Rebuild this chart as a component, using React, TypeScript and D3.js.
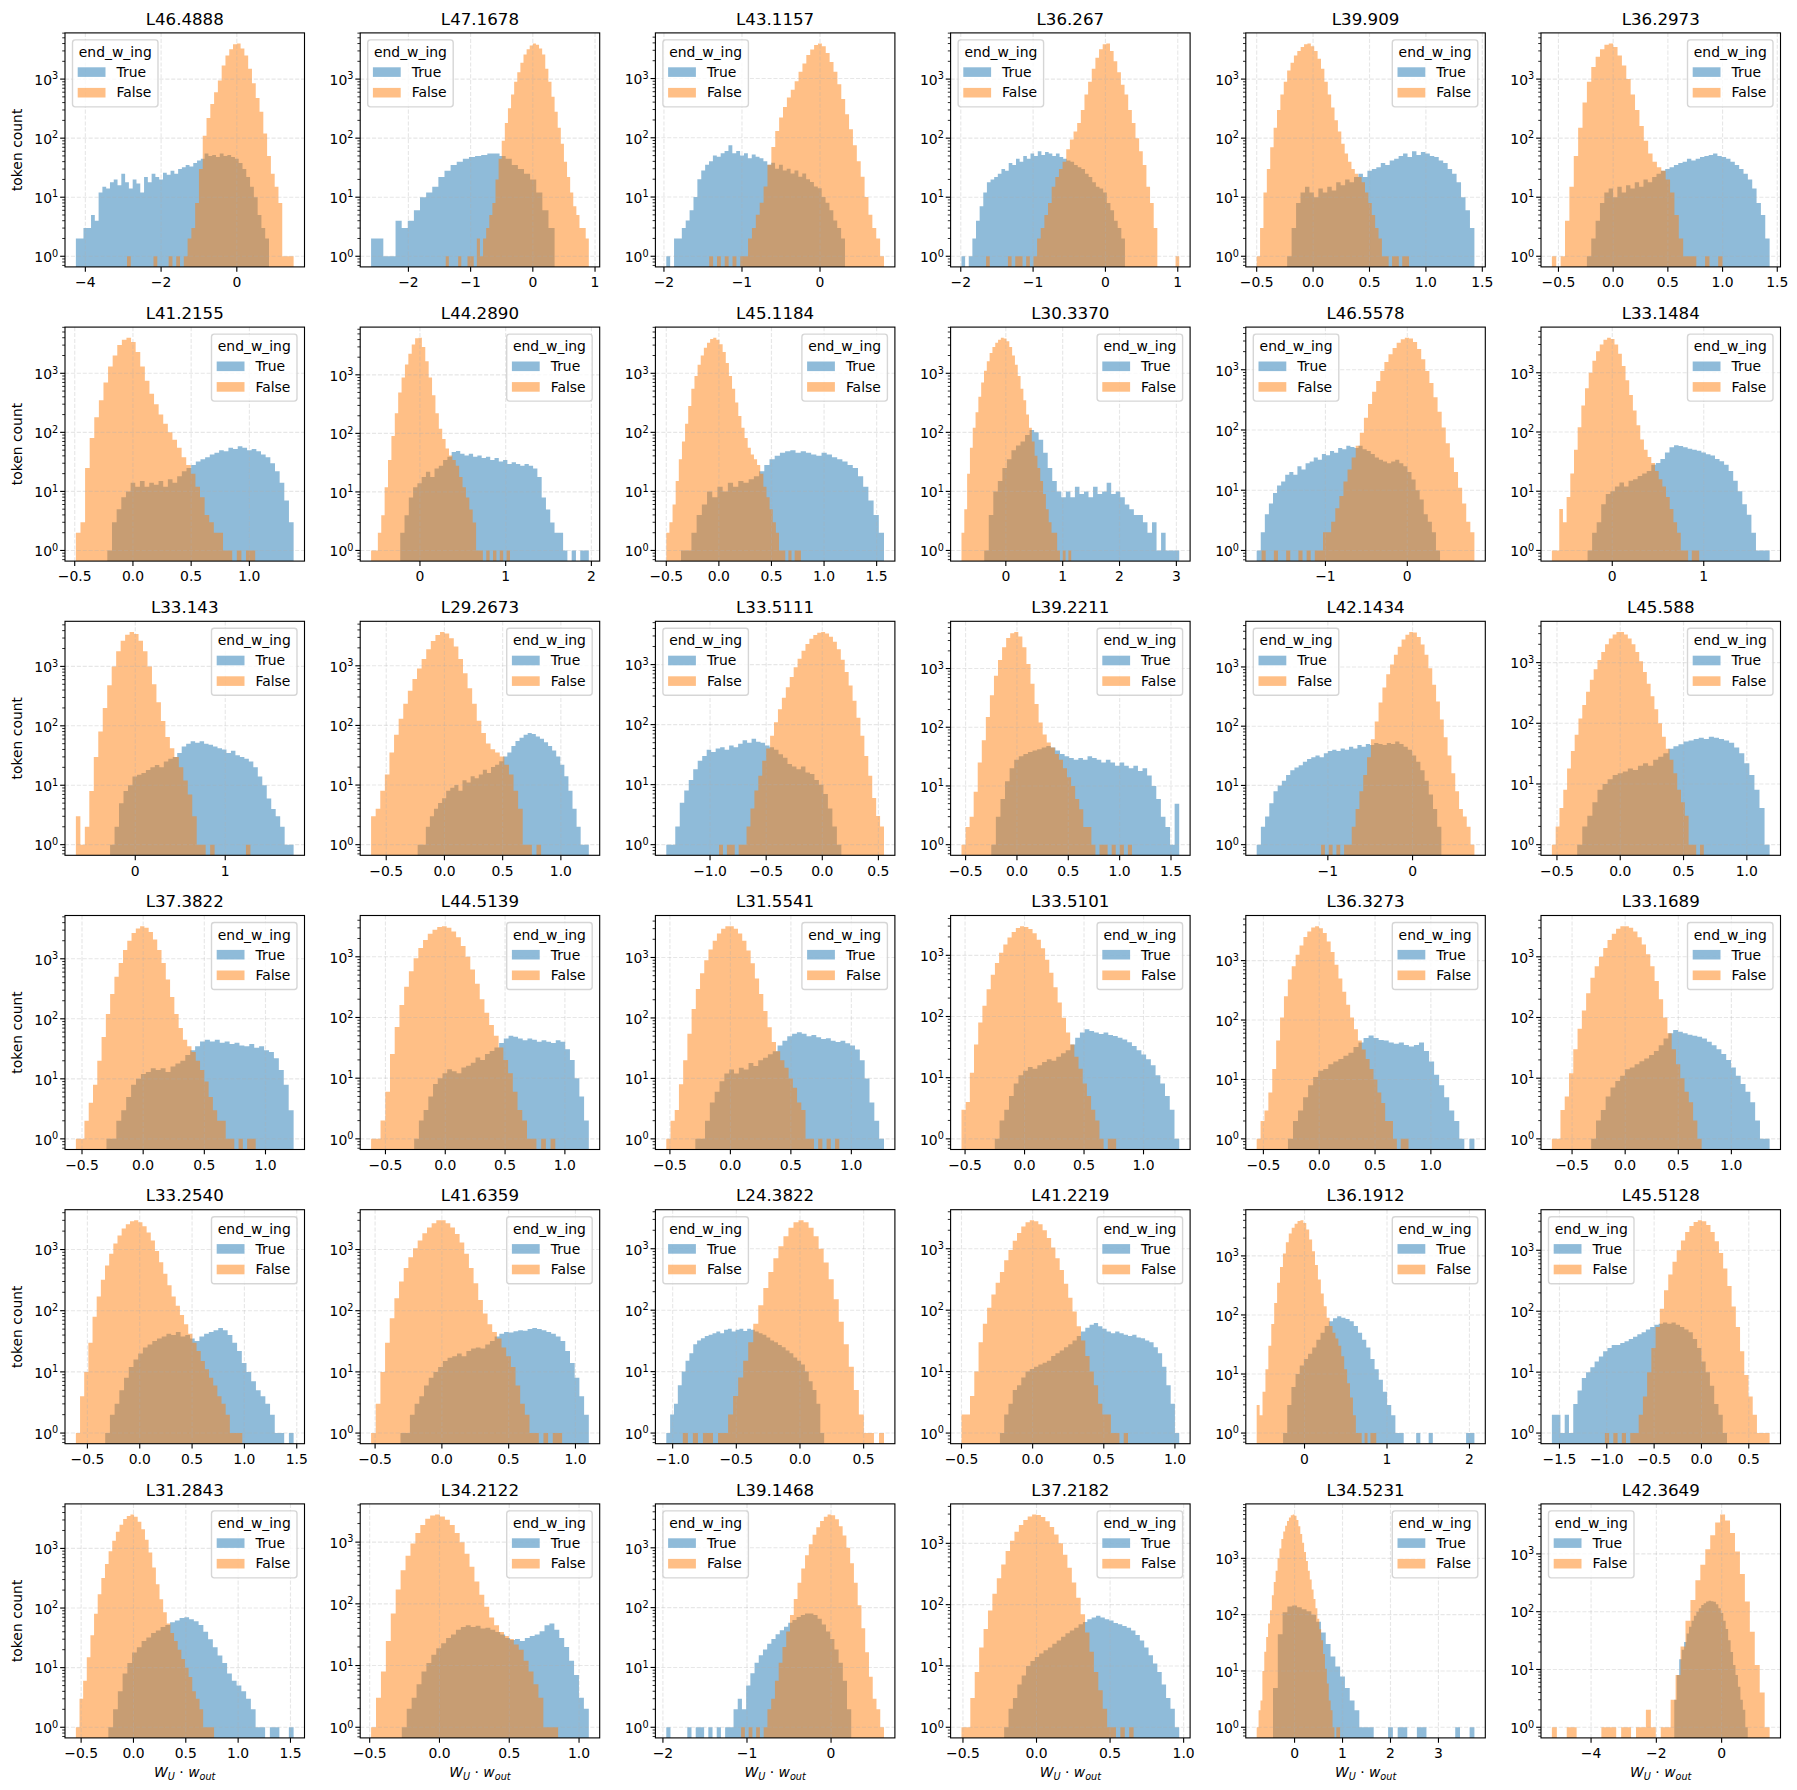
import { useEffect, useRef } from 'react';
import * as d3 from 'd3';

const titles = [
  'L46.4888', 'L47.1678', 'L43.1157', 'L36.267', 'L39.909', 'L36.2973',
  'L41.2155', 'L44.2890', 'L45.1184', 'L30.3370', 'L46.5578', 'L33.1484',
  'L33.143', 'L29.2673', 'L33.5111', 'L39.2211', 'L42.1434', 'L45.588',
  'L37.3822', 'L44.5139', 'L31.5541', 'L33.5101', 'L36.3273', 'L33.1689',
  'L33.2540', 'L41.6359', 'L24.3822', 'L41.2219', 'L36.1912', 'L45.5128',
  'L31.2843', 'L34.2122', 'L39.1468', 'L37.2182', 'L34.5231', 'L42.3649',
];

const xTicks: number[][] = [
  [-4, -2, 0], [-2, -1, 0, 1], [-2, -1, 0], [-2, -1, 0, 1], [-0.5, 0, 0.5, 1, 1.5], [-0.5, 0, 0.5, 1, 1.5],
  [-0.5, 0, 0.5, 1], [0, 1, 2], [-0.5, 0, 0.5, 1, 1.5], [0, 1, 2, 3], [-1, 0], [0, 1],
  [0, 1], [-0.5, 0, 0.5, 1], [-1, -0.5, 0, 0.5], [-0.5, 0, 0.5, 1, 1.5], [-1, 0], [-0.5, 0, 0.5, 1],
  [-0.5, 0, 0.5, 1], [-0.5, 0, 0.5, 1], [-0.5, 0, 0.5, 1], [-0.5, 0, 0.5, 1], [-0.5, 0, 0.5, 1], [-0.5, 0, 0.5, 1],
  [-0.5, 0, 0.5, 1, 1.5], [-0.5, 0, 0.5, 1], [-1, -0.5, 0, 0.5], [-0.5, 0, 0.5, 1], [0, 1, 2], [-1.5, -1, -0.5, 0, 0.5],
  [-0.5, 0, 0.5, 1, 1.5], [-0.5, 0, 0.5, 1], [-2, -1, 0], [-0.5, 0, 0.5, 1], [0, 1, 2, 3], [-4, -2, 0],
];

const legendLeft = [
  true, true, true, true, false, false,
  false, false, false, false, true, false,
  false, false, true, false, true, false,
  false, false, false, false, false, false,
  false, false, true, false, false, true,
  false, false, true, false, false, true,
];

// bin range [first edge, last edge] of each series
const trueRanges: [number, number][] = [
  [-4.25, 0.85], [-2.6, 0.35], [-1.97, 0.32], [-1.99, 0.27], [-0.23, 1.43], [-0.24, 1.43],
  [-0.22, 1.38], [-0.23, 1.97], [-0.36, 1.57], [-0.38, 3.05], [-1.84, 0.4], [-0.27, 1.72],
  [-0.28, 1.76], [-0.23, 1.24], [-1.39, 0.17], [-0.25, 1.58], [-1.84, 0.34], [-0.34, 1.18],
  [-0.3, 1.23], [-0.26, 1.2], [-0.29, 1.27], [-0.25, 1.3], [-0.28, 1.39], [-0.32, 1.36],
  [-0.33, 1.47], [-0.31, 1.1], [-1.05, 0.19], [-0.23, 1.03], [-0.26, 2.06], [-1.58, 0.27],
  [-0.24, 1.53], [-0.27, 1.07], [-1.96, 0.24], [-0.22, 0.97], [-0.45, 3.75], [-1.45, 0.8],
];

const falseRanges: [number, number][] = [
  [-2.9, 1.5], [-1.4, 0.9], [-1.42, 0.82], [-1.65, 1.02], [-0.5, 0.85], [-0.56, 1.0],
  [-0.49, 1.05], [-0.57, 1.05], [-0.5, 0.78], [-0.78, 1.15], [-1.78, 0.82], [-0.66, 0.95],
  [-0.66, 1.28], [-0.63, 0.83], [-0.92, 0.55], [-0.54, 1.12], [-1.08, 0.73], [-0.54, 0.66],
  [-0.55, 0.92], [-0.62, 0.92], [-0.53, 0.9], [-0.53, 0.77], [-0.56, 0.8], [-0.69, 0.72],
  [-0.61, 0.98], [-0.53, 0.9], [-0.92, 0.66], [-0.5, 0.67], [-0.58, 0.87], [-1.02, 0.72],
  [-0.55, 0.77], [-0.49, 0.85], [-1.07, 0.63], [-0.51, 0.66], [-0.79, 0.95], [-5.2, 1.47],
];

// token counts per bin, end_w_ing = True
const trueCounts: number[][] = [
  [2, 2, 3, 3, 5, 4, 12, 15, 14, 18, 20, 16, 25, 18, 14, 20, 17, 12, 22, 18, 25, 22, 20, 26, 24, 28, 25, 30, 32, 35, 33, 38, 42, 45, 55, 50, 52, 48, 55, 50, 52, 48, 45, 38, 30, 22, 15, 10, 5, 3, 2],
  [2, 2, 1, 1, 4, 3, 4, 6, 10, 12, 15, 22, 28, 35, 40, 45, 48, 50, 52, 55, 55, 50, 45, 35, 30, 25, 20, 12, 6, 3],
  [1, 0, 2, 2, 3, 4, 6, 10, 20, 28, 35, 40, 50, 48, 55, 60, 75, 55, 60, 50, 55, 45, 52, 48, 45, 40, 35, 38, 30, 35, 28, 30, 25, 28, 22, 25, 20, 18, 15, 14, 10, 8, 6, 4, 3, 2],
  [1, 0, 1, 2, 4, 7, 12, 18, 20, 22, 25, 30, 28, 38, 35, 45, 40, 50, 45, 55, 50, 60, 52, 58, 55, 50, 55, 48, 45, 42, 40, 35, 32, 30, 25, 22, 18, 15, 14, 12, 8, 6, 4, 3, 2],
  [1, 3, 8, 12, 15, 12, 10, 14, 12, 15, 13, 18, 16, 20, 18, 22, 25, 22, 28, 30, 32, 38, 35, 42, 45, 50, 55, 48, 60, 52, 58, 55, 50, 48, 42, 38, 30, 25, 18, 10, 6, 3],
  [1, 2, 4, 8, 12, 14, 10, 15, 12, 16, 14, 18, 15, 20, 18, 22, 25, 28, 30, 32, 35, 38, 40, 45, 42, 45, 48, 50, 52, 55, 50, 48, 45, 40, 35, 30, 25, 20, 14, 8, 5, 2],
  [1, 3, 5, 8, 10, 14, 12, 15, 12, 14, 13, 15, 12, 16, 14, 18, 22, 25, 28, 32, 35, 38, 42, 45, 50, 48, 55, 52, 58, 55, 50, 52, 48, 42, 38, 30, 22, 14, 7, 3],
  [2, 4, 8, 12, 14, 18, 22, 18, 25, 28, 35, 40, 48, 50, 45, 42, 45, 40, 42, 38, 40, 35, 38, 33, 35, 30, 32, 30, 28, 30, 28, 25, 18, 8, 5, 3, 2, 2, 1, 0, 1, 0, 1, 1],
  [1, 1, 2, 4, 6, 10, 8, 12, 10, 14, 12, 15, 14, 16, 18, 22, 28, 35, 40, 45, 48, 50, 45, 48, 45, 42, 40, 45, 42, 38, 35, 32, 28, 25, 18, 12, 7, 4, 2],
  [1, 4, 10, 15, 25, 35, 50, 60, 70, 90, 110, 100, 75, 45, 25, 15, 10, 8, 10, 8, 12, 9, 10, 8, 12, 9, 10, 14, 9, 10, 8, 6, 5, 4, 4, 3, 2, 3, 1, 2, 1, 1, 1],
  [1, 2, 4, 6, 9, 12, 14, 18, 20, 18, 25, 22, 28, 30, 35, 32, 40, 38, 45, 42, 50, 48, 55, 52, 50, 55, 48, 45, 40, 35, 32, 30, 28, 30, 32, 28, 25, 20, 15, 10, 7, 4, 3, 2, 1],
  [1, 2, 3, 6, 9, 10, 12, 14, 12, 15, 16, 18, 20, 22, 28, 30, 35, 45, 55, 60, 58, 55, 52, 50, 48, 45, 42, 40, 35, 32, 28, 22, 15, 10, 6, 4, 2, 1, 1, 1],
  [1, 2, 5, 8, 10, 14, 15, 16, 18, 20, 22, 20, 25, 28, 30, 35, 45, 50, 55, 52, 55, 50, 48, 45, 42, 40, 35, 38, 32, 30, 28, 25, 20, 14, 10, 6, 4, 3, 2, 1, 1],
  [1, 1, 2, 3, 4, 5, 6, 8, 9, 10, 8, 12, 11, 14, 13, 15, 18, 16, 20, 22, 25, 30, 35, 45, 55, 62, 70, 75, 72, 65, 60, 52, 45, 38, 30, 22, 14, 8, 4, 2, 1, 1],
  [1, 1, 2, 5, 8, 12, 18, 25, 30, 38, 35, 40, 42, 38, 45, 42, 48, 55, 50, 58, 52, 50, 45, 42, 38, 32, 28, 22, 20, 18, 20, 16, 15, 12, 10, 7, 4, 2, 1],
  [1, 3, 6, 12, 20, 28, 32, 35, 38, 40, 42, 45, 48, 45, 40, 35, 32, 30, 28, 30, 28, 32, 30, 28, 25, 28, 25, 22, 25, 22, 20, 22, 18, 20, 15, 10, 6, 3, 2, 1, 5],
  [1, 2, 3, 5, 8, 10, 12, 15, 18, 20, 22, 25, 28, 30, 32, 30, 35, 38, 40, 38, 42, 40, 45, 42, 48, 45, 50, 48, 52, 50, 48, 52, 50, 55, 50, 45, 40, 32, 25, 18, 12, 7, 4, 2],
  [1, 2, 3, 5, 8, 10, 12, 14, 15, 16, 18, 17, 20, 22, 20, 25, 28, 32, 38, 42, 45, 50, 52, 55, 58, 55, 60, 58, 55, 52, 48, 40, 32, 22, 14, 8, 4, 1],
  [1, 1, 2, 3, 5, 8, 10, 12, 13, 15, 14, 15, 13, 16, 18, 20, 25, 30, 35, 42, 45, 42, 45, 40, 42, 38, 40, 36, 35, 38, 33, 35, 30, 28, 22, 14, 8, 3],
  [1, 2, 3, 5, 8, 10, 12, 14, 13, 12, 15, 16, 18, 22, 20, 25, 28, 32, 38, 45, 50, 48, 45, 42, 45, 43, 40, 42, 40, 38, 42, 40, 30, 20, 10, 5, 2],
  [1, 1, 2, 4, 6, 9, 12, 14, 12, 15, 14, 18, 16, 20, 22, 25, 28, 35, 42, 50, 55, 58, 55, 50, 52, 48, 45, 46, 42, 40, 42, 38, 35, 30, 20, 10, 4, 2, 1],
  [1, 2, 3, 5, 8, 11, 13, 15, 14, 16, 18, 20, 19, 22, 25, 28, 35, 45, 55, 62, 58, 55, 52, 55, 50, 48, 45, 42, 38, 33, 28, 24, 20, 16, 11, 8, 5, 3, 1],
  [1, 2, 3, 5, 8, 11, 14, 15, 18, 20, 22, 25, 28, 35, 42, 50, 55, 50, 46, 45, 42, 40, 42, 38, 36, 38, 42, 30, 20, 12, 8, 5, 3, 2, 1, 0, 1],
  [1, 2, 3, 5, 7, 9, 11, 14, 15, 17, 19, 21, 24, 28, 35, 45, 55, 62, 58, 55, 52, 50, 48, 45, 40, 35, 30, 25, 20, 15, 11, 8, 6, 4, 2, 1, 1],
  [1, 2, 3, 5, 8, 12, 16, 20, 25, 28, 32, 35, 38, 42, 40, 45, 38, 40, 35, 32, 38, 42, 45, 48, 52, 48, 40, 30, 22, 14, 10, 7, 5, 4, 3, 2, 1, 1, 0, 1],
  [1, 1, 2, 3, 4, 6, 8, 10, 12, 15, 17, 18, 20, 18, 22, 24, 25, 24, 28, 32, 38, 42, 45, 44, 46, 48, 47, 50, 52, 50, 48, 45, 42, 38, 32, 22, 14, 8, 4, 2],
  [1, 2, 3, 6, 10, 15, 20, 28, 32, 35, 38, 40, 42, 45, 42, 48, 50, 45, 48, 50, 46, 50, 48, 45, 42, 40, 36, 32, 30, 27, 25, 22, 20, 17, 15, 13, 10, 7, 5, 3, 1],
  [1, 2, 3, 5, 6, 8, 10, 11, 12, 13, 14, 15, 18, 20, 22, 25, 28, 32, 38, 45, 52, 58, 62, 55, 50, 45, 42, 45, 42, 40, 38, 40, 36, 35, 32, 30, 25, 20, 12, 6, 3, 1],
  [1, 3, 6, 10, 14, 18, 22, 28, 38, 50, 65, 78, 88, 95, 90, 85, 78, 65, 50, 38, 28, 18, 12, 8, 5, 3, 2, 1, 1, 0, 0, 0, 1, 0, 0, 1, 0, 0, 0, 0, 0, 0, 0, 0, 1, 1],
  [2, 2, 1, 2, 1, 3, 5, 8, 10, 12, 15, 18, 22, 25, 28, 28, 30, 32, 35, 38, 42, 45, 50, 55, 60, 62, 65, 62, 65, 60, 55, 50, 45, 35, 25, 15, 10, 6, 3, 2, 1],
  [1, 2, 4, 8, 12, 18, 22, 28, 32, 38, 42, 48, 52, 58, 62, 68, 70, 65, 60, 52, 40, 30, 22, 16, 12, 8, 6, 5, 4, 3, 2, 1, 1, 0, 1, 1, 0, 0, 1],
  [1, 2, 3, 5, 8, 11, 15, 19, 23, 28, 32, 38, 42, 45, 42, 44, 40, 41, 38, 35, 32, 28, 26, 27, 25, 28, 30, 32, 36, 45, 48, 38, 28, 20, 12, 7, 3, 2],
  [1, 0, 0, 0, 0, 1, 0, 1, 1, 0, 1, 0, 1, 0, 1, 1, 2, 3, 2, 5, 8, 12, 16, 20, 25, 30, 36, 42, 48, 56, 62, 70, 75, 80, 80, 75, 65, 52, 40, 30, 20, 12, 6, 2],
  [1, 2, 3, 5, 7, 10, 12, 14, 16, 18, 20, 23, 26, 30, 34, 38, 42, 48, 52, 58, 62, 66, 62, 58, 55, 50, 48, 45, 42, 38, 32, 26, 20, 15, 11, 8, 5, 3, 2, 1],
  [5, 45, 110, 140, 145, 135, 125, 115, 100, 75, 48, 30, 18, 12, 8, 5, 3, 2, 1, 1, 1, 0, 0, 0, 1, 0, 1, 1, 0, 0, 1, 1, 0, 0, 0, 0, 0, 0, 1, 0, 0, 1],
  [3, 8, 15, 22, 30, 42, 55, 70, 85, 100, 115, 130, 140, 150, 155, 152, 148, 135, 115, 95, 70, 50, 32, 20, 12, 8, 5, 3, 2, 1],
];

// token counts per bin, end_w_ing = False
const falseCounts: number[][] = [
  [1, 0, 0, 0, 0, 0, 0, 1, 0, 0, 0, 1, 0, 1, 0, 1, 2, 3, 8, 30, 110, 220, 380, 600, 950, 1700, 2500, 3200, 3900, 4000, 3300, 2500, 1500, 850, 480, 280, 120, 50, 25, 15, 8, 1, 1, 1],
  [1, 0, 0, 0, 1, 0, 0, 1, 1, 0, 2, 1, 2, 3, 5, 8, 20, 45, 90, 180, 320, 550, 900, 1300, 1900, 2600, 3200, 3700, 4000, 3800, 3300, 2600, 1500, 900, 500, 280, 150, 80, 40, 22, 12, 7, 5, 3, 3, 2],
  [1, 0, 1, 0, 1, 0, 1, 0, 1, 1, 2, 3, 5, 8, 15, 35, 70, 130, 220, 330, 480, 650, 900, 1300, 1800, 2500, 3100, 3700, 3900, 3500, 2700, 1900, 1300, 800, 450, 250, 140, 75, 40, 22, 10, 5, 3, 2, 1],
  [1, 0, 0, 0, 0, 0, 1, 0, 1, 1, 0, 1, 0, 1, 2, 3, 5, 8, 15, 22, 30, 40, 65, 95, 130, 180, 300, 550, 900, 1500, 2300, 3200, 3900, 4000, 3000, 2000, 1300, 800, 550, 300, 180, 100, 60, 35, 15, 8, 3, 0, 0, 0, 0, 0, 1],
  [1, 3, 12, 30, 70, 150, 300, 550, 900, 1400, 1900, 2500, 3000, 3500, 3900, 4000, 3600, 3000, 2200, 1500, 900, 550, 330, 200, 130, 80, 55, 40, 30, 25, 22, 18, 12, 8, 5, 3, 2, 1, 1, 0, 1, 1, 0, 1, 1],
  [1, 0, 1, 4, 15, 50, 150, 400, 900, 1600, 2400, 3200, 3800, 4000, 3500, 2500, 1700, 1000, 550, 300, 160, 90, 55, 40, 32, 28, 20, 12, 5, 2, 1, 1, 1, 0, 0, 1, 0, 0, 1],
  [2, 3, 25, 80, 180, 350, 700, 1300, 2000, 3000, 3700, 4000, 3400, 2300, 1300, 750, 450, 300, 200, 140, 100, 75, 55, 38, 28, 20, 12, 8, 4, 3, 2, 2, 1, 1, 0, 1, 0, 1, 1],
  [1, 1, 2, 4, 12, 35, 90, 220, 500, 900, 1500, 2300, 3300, 4200, 4300, 3000, 1700, 900, 450, 220, 120, 80, 55, 42, 35, 28, 18, 12, 8, 5, 3, 1, 1, 0, 1, 0, 1, 0, 1, 0, 1],
  [2, 3, 6, 15, 35, 70, 140, 280, 550, 900, 1400, 2000, 2700, 3300, 3800, 4000, 3700, 3100, 2300, 1500, 900, 550, 320, 190, 120, 80, 55, 42, 35, 28, 20, 12, 8, 5, 3, 2, 1, 1, 0, 1, 0, 1, 1],
  [2, 5, 20, 55, 120, 220, 400, 700, 1100, 1600, 2200, 2800, 3300, 3700, 4000, 3900, 3500, 2800, 2000, 1400, 900, 550, 350, 200, 120, 70, 40, 25, 15, 9, 5, 3, 2, 2, 1, 0, 1, 0, 1],
  [1, 0, 0, 1, 0, 0, 1, 0, 0, 1, 0, 1, 0, 1, 1, 2, 2, 3, 5, 8, 14, 22, 35, 55, 90, 160, 270, 430, 650, 950, 1350, 1800, 2300, 2800, 3200, 3400, 3300, 2900, 2200, 1500, 950, 600, 350, 200, 110, 60, 35, 20, 11, 6, 3, 2],
  [1, 1, 5, 3, 8, 20, 50, 120, 280, 550, 1000, 1600, 2300, 3000, 3600, 3900, 3700, 3000, 2100, 1300, 750, 420, 230, 130, 75, 50, 38, 30, 22, 16, 12, 8, 5, 3, 2, 1, 1, 0, 1, 1],
  [3, 1, 2, 8, 30, 80, 200, 480, 1000, 1800, 2700, 3400, 3800, 3500, 2700, 1800, 1000, 500, 250, 120, 65, 42, 30, 20, 12, 7, 3, 1, 1, 0, 1, 0, 0, 0, 0, 0, 0, 0, 1],
  [3, 4, 8, 15, 35, 70, 130, 230, 380, 600, 900, 1300, 1900, 2600, 3300, 3700, 3500, 2900, 2100, 1300, 750, 420, 230, 120, 75, 50, 40, 35, 30, 22, 15, 8, 4, 1, 1, 0, 1],
  [1, 0, 1, 1, 0, 1, 1, 2, 4, 8, 14, 25, 40, 65, 110, 180, 280, 420, 620, 900, 1250, 1700, 2200, 2700, 3100, 3400, 3500, 3300, 2900, 2400, 1800, 1200, 750, 450, 250, 130, 65, 30, 14, 6, 3, 2],
  [1, 2, 3, 8, 25, 60, 150, 350, 750, 1400, 2300, 3300, 4000, 4200, 3500, 2300, 1200, 550, 250, 120, 75, 55, 45, 35, 28, 20, 14, 10, 6, 4, 2, 2, 1, 0, 1, 1, 0, 1, 0, 1, 0, 1],
  [1, 0, 1, 0, 1, 0, 1, 1, 2, 4, 8, 15, 30, 60, 120, 250, 450, 750, 1100, 1600, 2200, 2900, 3500, 3900, 3800, 3200, 2400, 1600, 950, 500, 260, 130, 65, 32, 16, 8, 4, 3, 2, 1],
  [1, 2, 4, 8, 18, 35, 65, 120, 200, 330, 520, 780, 1100, 1500, 2000, 2500, 2900, 3200, 3200, 2900, 2500, 2000, 1500, 1050, 700, 450, 280, 170, 100, 60, 38, 25, 15, 8, 5, 3, 1, 1, 0, 1],
  [1, 1, 2, 4, 8, 20, 50, 120, 260, 500, 850, 1400, 2000, 2700, 3200, 3500, 3300, 2800, 2100, 1400, 850, 450, 230, 120, 70, 45, 35, 28, 20, 14, 9, 5, 3, 2, 2, 1, 1, 0, 1, 0, 1, 1],
  [1, 1, 2, 6, 25, 70, 160, 320, 580, 950, 1400, 1900, 2400, 2800, 3100, 3200, 3000, 2600, 2100, 1500, 1000, 620, 360, 200, 120, 75, 50, 32, 20, 12, 6, 3, 2, 1, 1, 0, 1, 0, 1],
  [1, 2, 3, 8, 20, 55, 140, 300, 550, 900, 1350, 1900, 2500, 3000, 3300, 3300, 3000, 2500, 1900, 1300, 800, 450, 250, 130, 70, 40, 28, 20, 15, 10, 7, 4, 3, 1, 1, 0, 1, 0, 1, 0, 1],
  [3, 4, 12, 35, 80, 150, 280, 480, 750, 1100, 1500, 1950, 2400, 2800, 3000, 2900, 2700, 2300, 1800, 1300, 850, 520, 300, 170, 95, 55, 35, 22, 14, 8, 5, 3, 2, 1, 0, 1, 1],
  [1, 2, 3, 6, 15, 45, 110, 250, 480, 800, 1250, 1800, 2500, 3100, 3600, 3800, 3500, 2900, 2100, 1400, 850, 500, 300, 180, 110, 70, 45, 32, 22, 15, 10, 6, 4, 2, 2, 1, 0, 1, 1],
  [1, 1, 3, 5, 12, 30, 65, 130, 250, 450, 700, 1000, 1400, 1900, 2400, 2900, 3200, 3200, 3000, 2600, 2100, 1600, 1100, 700, 400, 200, 100, 55, 30, 17, 10, 6, 4, 2, 1],
  [1, 4, 10, 30, 80, 170, 320, 550, 850, 1250, 1700, 2200, 2600, 2900, 3000, 2800, 2400, 1900, 1400, 950, 620, 400, 260, 170, 120, 85, 60, 42, 30, 22, 15, 11, 8, 6, 4, 3, 2, 1, 1, 1],
  [1, 3, 10, 30, 75, 160, 300, 500, 750, 1050, 1400, 1850, 2300, 2700, 3000, 3000, 2700, 2300, 1800, 1300, 850, 500, 280, 150, 90, 60, 45, 35, 25, 18, 12, 6, 3, 2, 1, 1, 0, 1, 0, 1, 1],
  [1, 0, 1, 0, 1, 1, 0, 1, 1, 2, 4, 8, 15, 30, 60, 120, 230, 420, 700, 1100, 1600, 2200, 2700, 2900, 2700, 2200, 1600, 1000, 600, 320, 150, 65, 28, 12, 5, 2, 1, 1, 0, 1],
  [2, 2, 4, 10, 30, 60, 110, 180, 280, 420, 650, 950, 1350, 1800, 2300, 2700, 2900, 2800, 2500, 2000, 1500, 1050, 700, 450, 270, 160, 95, 55, 32, 18, 10, 6, 3, 2, 2, 1, 1, 0, 1],
  [3, 2, 5, 12, 30, 70, 160, 350, 650, 1100, 1700, 2400, 3000, 3500, 3900, 4000, 3600, 2800, 1900, 1200, 700, 400, 230, 140, 90, 65, 50, 40, 30, 20, 12, 7, 4, 2, 1, 1, 0, 1, 0, 1, 1],
  [1, 0, 1, 0, 1, 0, 1, 1, 2, 4, 10, 25, 55, 110, 220, 400, 650, 1000, 1450, 2000, 2500, 2900, 3100, 3000, 2600, 2000, 1400, 900, 500, 260, 120, 55, 22, 9, 4, 2, 1, 1, 1],
  [1, 3, 6, 15, 35, 80, 170, 320, 550, 900, 1350, 1900, 2500, 3100, 3500, 3700, 3400, 2800, 2100, 1400, 850, 480, 250, 140, 85, 55, 38, 28, 20, 14, 10, 7, 4, 3, 2, 1, 1, 1],
  [1, 3, 8, 25, 70, 170, 350, 600, 950, 1400, 1900, 2400, 2700, 2800, 2600, 2300, 1900, 1400, 1000, 650, 400, 230, 140, 90, 60, 45, 35, 30, 27, 22, 18, 12, 8, 5, 3, 1, 1, 1],
  [1, 0, 1, 0, 1, 0, 1, 2, 3, 6, 12, 22, 40, 75, 140, 260, 450, 750, 1150, 1650, 2200, 2800, 3300, 3600, 3500, 3000, 2300, 1600, 1000, 550, 260, 110, 45, 18, 7, 3, 2, 1],
  [1, 1, 3, 8, 20, 40, 80, 150, 270, 450, 750, 1100, 1550, 2000, 2400, 2750, 2950, 2900, 2700, 2300, 1850, 1400, 1000, 650, 400, 230, 130, 70, 35, 17, 8, 4, 2, 1, 1, 0, 1, 0, 1],
  [1, 2, 3, 10, 22, 40, 70, 120, 220, 380, 600, 1000, 1500, 2200, 3000, 3800, 4600, 5300, 5800, 6000, 5700, 4800, 3700, 2700, 1900, 1300, 900, 600, 420, 280, 190, 130, 85, 55, 35, 20, 11, 6, 3, 2, 1, 0, 1, 1],
  [1, 0, 0, 1, 1, 0, 0, 0, 0, 0, 1, 1, 1, 0, 1, 1, 0, 1, 1, 2, 1, 0, 1, 1, 3, 8, 25, 70, 160, 350, 650, 1200, 2100, 3500, 4800, 3800, 2300, 1100, 450, 150, 45, 12, 4, 1],
];

const WIDTH = 1797;
const HEIGHT = 1790;
const COLS = 6;
const AX_X0 = 65;
const AX_Y0 = 32.9;
const COL_STEP = 295.2;
const ROW_STEP = 294.2;
const AX_W = 239.5;
const AX_H = 234;
const FS = 13.9; // 10pt
const BLUE = '#1f77b4';
const ORANGE = '#ff7f0e';

const fmt = (t: number, dec: number) => t.toFixed(dec).replace('-', '\u2212');

export default function App() {
  const ref = useRef<SVGSVGElement>(null);

  useEffect(() => {
    if (!ref.current) return;
    const svg = d3.select(ref.current);
    svg.selectAll('*').remove();
    svg.append('rect').attr('width', WIDTH).attr('height', HEIGHT).attr('fill', '#fff');
    const defs = svg.append('defs');

    titles.forEach((title, i) => {
      const row = Math.floor(i / COLS);
      const col = i % COLS;
      const g = svg.append('g').attr('transform', `translate(${AX_X0 + col * COL_STEP},${AX_Y0 + row * ROW_STEP})`);

      const [tLo, tHi] = trueRanges[i];
      const [fLo, fHi] = falseRanges[i];
      const lo = Math.min(tLo, fLo);
      const hi = Math.max(tHi, fHi);
      const m = (hi - lo) * 0.05;
      const x = d3.scaleLinear().domain([lo - m, hi + m]).range([0, AX_W]);
      const top = Math.log10(d3.max([...trueCounts[i], ...falseCounts[i]]) as number);
      const y = d3.scaleLog().domain([10 ** (-0.05 * top), 10 ** (1.05 * top)]).range([AX_H, 0]);

      defs.append('clipPath').attr('id', `ax${i}`).append('rect').attr('width', AX_W).attr('height', AX_H);
      const plot = g.append('g').attr('clip-path', `url(#ax${i})`);

      const series = [
        { lo: tLo, hi: tHi, counts: trueCounts[i], color: BLUE },
        { lo: fLo, hi: fHi, counts: falseCounts[i], color: ORANGE },
      ];
      series.forEach((s) => {
        const bw = (s.hi - s.lo) / s.counts.length;
        const p = d3.path();
        p.moveTo(x(s.lo), AX_H);
        s.counts.forEach((c, k) => {
          const yy = c > 0 ? y(c) : AX_H;
          p.lineTo(x(s.lo + k * bw), yy);
          p.lineTo(x(s.lo + (k + 1) * bw), yy);
        });
        p.lineTo(x(s.hi), AX_H);
        p.closePath();
        plot.append('path').attr('d', p.toString()).attr('fill', s.color).attr('fill-opacity', 0.5);
      });

      const [d0, d1] = x.domain();
      const ticks = xTicks[i].filter((t) => t >= d0 && t <= d1);
      const [y0, y1] = y.domain();
      const decades = d3.range(Math.ceil(Math.log10(y0)), Math.floor(Math.log10(y1)) + 1);

      // grid
      const grid = g.append('g')
        .attr('stroke', '#b0b0b0').attr('stroke-opacity', 0.3)
        .attr('stroke-width', 1.11).attr('stroke-dasharray', '4.1,1.8');
      ticks.forEach((t) => grid.append('line').attr('x1', x(t)).attr('x2', x(t)).attr('y1', 0).attr('y2', AX_H));
      decades.forEach((k) => grid.append('line').attr('x1', 0).attr('x2', AX_W).attr('y1', y(10 ** k)).attr('y2', y(10 ** k)));

      // spines
      g.append('rect').attr('width', AX_W).attr('height', AX_H).attr('fill', 'none').attr('stroke', '#000').attr('stroke-width', 1.11);

      // x ticks
      const dec = ticks.some((t) => !Number.isInteger(t)) ? 1 : 0;
      ticks.forEach((t) => {
        g.append('line').attr('x1', x(t)).attr('x2', x(t)).attr('y1', AX_H).attr('y2', AX_H + 4.86)
          .attr('stroke', '#000').attr('stroke-width', 1.11);
        g.append('text').attr('x', x(t)).attr('y', AX_H + 20.3).attr('text-anchor', 'middle')
          .attr('font-size', FS).text(fmt(t, dec));
      });

      // y ticks (log)
      d3.range(Math.floor(Math.log10(y0)), Math.ceil(Math.log10(y1)) + 1).forEach((k) => {
        for (let mm = 2; mm <= 9; mm++) {
          const v = mm * 10 ** k;
          if (v < y0 || v > y1) continue;
          g.append('line').attr('x1', -2.78).attr('x2', 0).attr('y1', y(v)).attr('y2', y(v))
            .attr('stroke', '#000').attr('stroke-width', 0.83);
        }
      });
      decades.forEach((k) => {
        const yy = y(10 ** k);
        g.append('line').attr('x1', -4.86).attr('x2', 0).attr('y1', yy).attr('y2', yy)
          .attr('stroke', '#000').attr('stroke-width', 1.11);
        const t = g.append('text').attr('x', -6.8).attr('y', yy + 5.8).attr('text-anchor', 'end').attr('font-size', FS);
        t.append('tspan').text('10');
        t.append('tspan').attr('font-size', 9.7).attr('dy', -5.5).text(String(k));
      });

      // title
      g.append('text').attr('x', AX_W / 2).attr('y', -8.33).attr('text-anchor', 'middle')
        .attr('font-size', 16.67).text(title);

      if (col === 0) {
        g.append('text').attr('transform', `translate(-43,${AX_H / 2}) rotate(-90)`)
          .attr('text-anchor', 'middle').attr('font-size', FS).text('token count');
      }
      if (row === 5) {
        const t = g.append('text').attr('x', AX_W / 2).attr('y', AX_H + 39.5)
          .attr('text-anchor', 'middle').attr('font-size', FS);
        t.append('tspan').attr('font-style', 'italic').text('W');
        t.append('tspan').attr('font-style', 'italic').attr('font-size', 9.7).attr('dy', 2.8).text('U');
        t.append('tspan').attr('dy', -2.8).text(' \u00b7 ');
        t.append('tspan').attr('font-style', 'italic').text('w');
        t.append('tspan').attr('font-style', 'italic').attr('font-size', 9.7).attr('dy', 2.8).text('out');
      }

      // legend
      const lgW = 85.5;
      const lgH = 67;
      const lx = legendLeft[i] ? 7.5 : AX_W - 7.5 - lgW;
      const lg = g.append('g').attr('transform', `translate(${lx},7)`);
      lg.append('rect').attr('width', lgW).attr('height', lgH).attr('rx', 2.78).attr('ry', 2.78)
        .attr('fill', '#fff').attr('fill-opacity', 0.8)
        .attr('stroke', '#cccccc').attr('stroke-opacity', 0.8).attr('stroke-width', 1.39);
      lg.append('text').attr('x', lgW / 2).attr('y', 17.2).attr('text-anchor', 'middle')
        .attr('font-size', FS).text('end_w_ing');
      [{ label: 'True', color: BLUE, base: 37 }, { label: 'False', color: ORANGE, base: 57.6 }].forEach((e) => {
        lg.append('rect').attr('x', 5.2).attr('y', e.base - 9.6).attr('width', 27.8).attr('height', 9.6)
          .attr('fill', e.color).attr('fill-opacity', 0.5);
        lg.append('text').attr('x', 44).attr('y', e.base).attr('font-size', FS).text(e.label);
      });
    });
  }, []);

  return (
    <svg
      ref={ref}
      width={WIDTH}
      height={HEIGHT}
      style={{ position: 'absolute', left: 0, top: 0, fontFamily: "'DejaVu Sans', sans-serif" }}
    />
  );
}
